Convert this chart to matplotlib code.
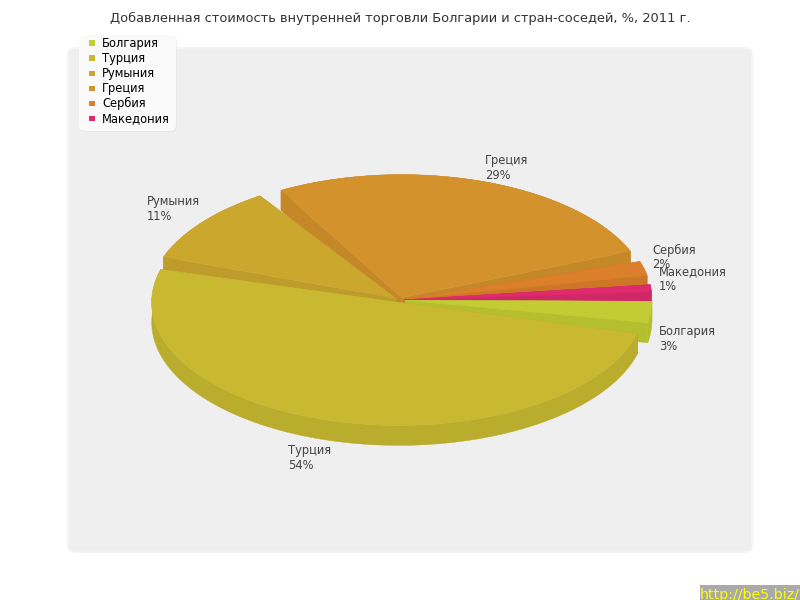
import numpy as np
import matplotlib
matplotlib.use('Agg')
import matplotlib.pyplot as plt
from matplotlib.patches import FancyBboxPatch, Polygon, Rectangle

title = 'Добавленная стоимость внутренней торговли Болгарии и стран-соседей, %, 2011 г.'
countries = ['Болгария', 'Турция', 'Румыния', 'Греция', 'Сербия', 'Македония']
percents = [3, 54, 11, 29, 2, 1]
colors = ['#c3cc33', '#c8b930', '#cca72e', '#d3922c', '#dc7f2a', '#e02a6e']

cx, cy = 400, 300
rx, ry = 247, 123
depth = 20
explode = 5
gap = np.radians(4.2)
start = np.radians(0.5)
label_pos = [(659, 331), (288, 450.5), (147, 201), (485, 160.5), (652, 250), (659, 272)]
draw_order = [3, 2, 4, 5, 0, 1]


def darker(color, k=0.93):
    r, g, b = matplotlib.colors.to_rgb(color)
    return (r * k, g * k, b * k)


fig = plt.figure(figsize=(8, 6), dpi=100)
ax = fig.add_axes([0, 0, 1, 1])
ax.set_xlim(0, 800)
ax.set_ylim(600, 0)
ax.axis('off')

ax.add_patch(FancyBboxPatch((73, 53), 674, 494, boxstyle='round,pad=5,rounding_size=7',
                            fc='#efefef', ec='#f4f4f4', lw=1.5))

fig.text(400 / 800, 1 - 18 / 600, title, ha='center', va='center', fontsize=9.35, color='#333333')

# every slice gives up the same gap, so widths scale to what is left of the circle
widths = np.array(percents) / sum(percents) * (2 * np.pi - gap * len(percents))
a0s = start + np.cumsum(np.r_[0, widths[:-1] + gap])
for i in draw_order:
    a0, a1 = a0s[i], a0s[i] + widths[i]
    mid = (a0 + a1) / 2
    px = cx + explode * np.cos(mid)
    py = cy + explode * np.sin(mid) * ry / rx
    t = np.linspace(a0, a1, 80)
    arc_x = px + rx * np.cos(t)
    arc_y = py + ry * np.sin(t)
    side = darker(colors[i])
    # radial walls, then the outer wall, then the top
    for a in (a0, a1):
        ex, ey = px + rx * np.cos(a), py + ry * np.sin(a)
        ax.add_patch(Polygon([(px, py), (ex, ey), (ex, ey + depth), (px, py + depth)],
                             fc=side, ec=side, lw=0.3))
    wall = np.vstack([np.column_stack([arc_x, arc_y]),
                      np.column_stack([arc_x, arc_y + depth])[::-1]])
    ax.add_patch(Polygon(wall, fc=side, ec=side, lw=0.3))
    top = np.vstack([[px, py], np.column_stack([arc_x, arc_y])])
    ax.add_patch(Polygon(top, fc=colors[i], ec=colors[i], lw=0.3))

for name, pct, (x, y) in zip(countries, percents, label_pos):
    ax.text(x, y, name, ha='left', va='center', fontsize=8.3, color='#444444')
    ax.text(x, y + 15, f'{pct}%', ha='left', va='center', fontsize=8.3, color='#444444')

# legend box
ax.add_patch(FancyBboxPatch((83, 39), 91, 90, boxstyle='round,pad=3,rounding_size=6',
                            fc='#e6e6e6', ec='none', alpha=0.7))
ax.add_patch(FancyBboxPatch((82, 38), 91, 90, boxstyle='round,pad=3,rounding_size=6',
                            fc='#fafafa', ec='none'))
for i, name in enumerate(countries):
    y = 43 + i * 15.1
    ax.add_patch(Rectangle((89, y - 2.7), 5.5, 5.5, fc=colors[i], ec='none'))
    ax.text(102, y, name, ha='left', va='center', fontsize=8.3, color='black')

# site stamp in the corner
ax.add_patch(Rectangle((700, 585), 100, 15, fc='#aaaaaa', ec='none'))
ax.text(700, 594.5, 'http://be5.biz/', ha='left', va='center', fontsize=10.2, color='#ffff00',
        clip_on=True)

fig.savefig('out.png', dpi=100)
